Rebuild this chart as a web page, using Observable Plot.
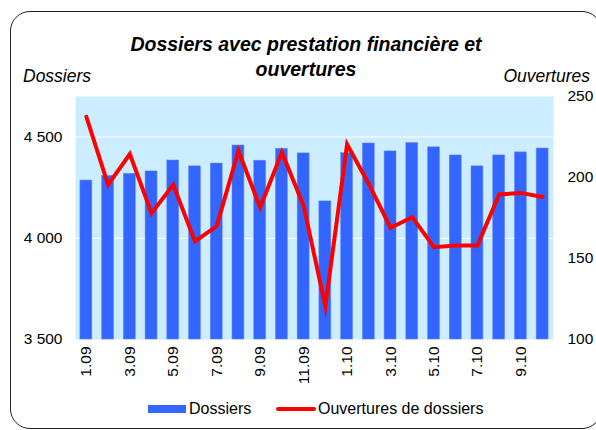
<!DOCTYPE html>
<html>
<head>
<meta charset="utf-8">
<script src="https://cdn.jsdelivr.net/npm/d3@7"></script>
<script src="https://cdn.jsdelivr.net/npm/@observablehq/plot@0.6"></script>
<style>
  html, body { margin: 0; padding: 0; background: #fff; }
  #wrap { position: relative; width: 596px; height: 430px; overflow: hidden; font-family: "Liberation Sans", Arial, sans-serif; }
  #wrap svg { position: absolute; left: 0; top: 0; }
  .frame { position: absolute; left: 10px; top: 11px; width: 592px; height: 418px; border: 1.5px solid #222; border-radius: 20px; box-sizing: border-box; }
  .title { position: absolute; left: 106px; width: 400px; text-align: center; font-size: 19.5px; font-weight: bold; font-style: italic; line-height: 25px; top: 32px; color: #000; white-space: nowrap; }
  .axt { position: absolute; font-size: 17.5px; font-style: italic; line-height: 20px; top: 66px; color: #000; }
  .legend { position: absolute; top: 400px; left: 0; font-size: 16px; line-height: 18px; color: #000; }
  .legend span { position: absolute; white-space: nowrap; }
</style>
</head>
<body>
<div id="wrap">
  <div class="frame"></div>
  <div class="title">Dossiers avec prestation financière et<br>ouvertures</div>
  <div class="axt" style="left:23px">Dossiers</div>
  <div class="axt" style="right:6px">Ouvertures</div>
  <div class="legend">
    <span style="left:148px;top:5px;width:38px;height:8px;background:#3366FF"></span>
    <span style="left:189px;top:0px">Dossiers</span>
    <span style="left:276px;top:7px;width:40px;height:3.5px;background:#FF0000;border-radius:2px"></span>
    <span style="left:318px;top:0px">Ouvertures de dossiers</span>
  </div>
</div>
<script>
const months = ["1.09","2.09","3.09","4.09","5.09","6.09","7.09","8.09","9.09","10.09","11.09","12.09",
                "1.10","2.10","3.10","4.10","5.10","6.10","7.10","8.10","9.10","10.10"];
const dossiers = [4285,4308,4318,4330,4384,4355,4369,4458,4383,4442,4419,4182,
                  4420,4468,4429,4470,4449,4409,4355,4409,4424,4443];
const ouvertures = [237.5,195.5,214.5,178,195.5,160.5,170,216.5,181.5,215.5,182.5,120.5,
                    220.5,196,169,175.5,157,158,158,189.5,190.5,188];
const leftTicks = [3500,4000,4500];
const rightTicks = [100,150,200,250];

// map right axis (100..250) onto left scale (3500..4700)
const toLeft = v => 3500 + (v - 100) * (1200 / 150);

const data = months.map((m, i) => ({month: m, dossiers: dossiers[i], ouv: toLeft(ouvertures[i])}));
const shown = months.filter((m, i) => i % 2 === 0);
const fmt = d => d3.format(",")(d).replace(",", " ");

const chart = Plot.plot({
  width: 596,
  height: 430,
  marginLeft: 75,
  marginRight: 43,
  marginTop: 96,
  marginBottom: 91,
  style: {fontFamily: "'Liberation Sans', Arial, sans-serif", fontSize: "15px", background: "transparent", color: "#000"},
  x: {domain: months, padding: 0, round: false, axis: null},
  y: {domain: [3500, 4700], axis: null},
  marks: [
    Plot.frame({fill: "#CCECFF", stroke: null}),
    Plot.ruleY([4000, 4500], {stroke: "#ffffff", strokeWidth: 1.2}),
    Plot.barY(data, {x: "month", y1: 3500, y2: "dossiers", fill: "#3366FF", stroke: "#6688FF", strokeWidth: 0.5, insetLeft: 4.9, insetRight: 4.9}),
    Plot.line(data, {x: "month", y: "ouv", stroke: "#FF0000", strokeWidth: 4, strokeLinejoin: "miter", strokeMiterlimit: 10}),
    Plot.axisY(leftTicks, {anchor: "left", tickSize: 0, tickPadding: 13, tickFormat: fmt, fontSize: 15.5, label: null}),
    Plot.axisY(rightTicks.map(toLeft), {anchor: "right", tickSize: 0, tickPadding: 14, tickFormat: (d, i) => String(rightTicks[i]), fontSize: 15.5, label: null}),
    Plot.axisX(shown, {anchor: "bottom", tickSize: 0, tickPadding: 7, tickRotate: -90, fontSize: 15.5, label: null})
  ]
});
document.getElementById("wrap").insertBefore(chart, document.querySelector(".frame"));
</script>
</body>
</html>
